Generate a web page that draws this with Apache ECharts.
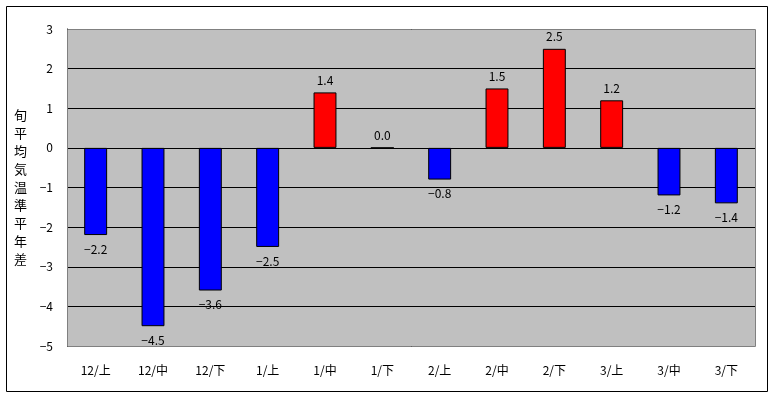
<!DOCTYPE html>
<html><head><meta charset="utf-8">
<script src="https://cdn.jsdelivr.net/npm/echarts@6/dist/echarts.min.js"></script>
<style>html,body{margin:0;padding:0;background:#fff}#c{width:773px;height:396px}</style>
</head><body><div id="c"></div>
<script>
const categories = ['12/上','12/中','12/下','1/上','1/中','1/下','2/上','2/中','2/下','3/上','3/中','3/下'];
const values = [-2.2, -4.5, -3.6, -2.5, 1.4, 0.0, -0.8, 1.5, 2.5, 1.2, -1.2, -1.4];
const yTitle = '旬平均気温準平年差';
const yMin = -5, yMax = 3, yInterval = 1;

const fmt = v => String(v).replace('-', '\u2212');
const font = '"Noto Sans CJK JP", "DejaVu Sans", sans-serif';

const chart = echarts.init(document.getElementById('c'), null, {renderer: 'canvas'});
chart.setOption({
  animation: false,
  backgroundColor: '#fff',
  textStyle: {fontFamily: font},
  graphic: [{
    type: 'rect', shape: {x: 6.5, y: 6.5, width: 761, height: 385},
    style: {fill: null, stroke: '#000', lineWidth: 1}, z: -10
  }, {
    type: 'rect', shape: {x: 67.5, y: 29.5, width: 688, height: 317},
    style: {fill: null, stroke: '#808080', lineWidth: 1}, z: 1
  }],
  grid: {left: 67, top: 29, right: 18, bottom: 50, show: true, backgroundColor: '#C0C0C0', borderWidth: 0},
  xAxis: {
    type: 'category', data: categories,
    axisLine: {show: false},
    axisTick: {show: false},
    axisLabel: {color: '#000', fontSize: 12, margin: 18, fontFamily: font}
  },
  yAxis: {
    type: 'value', min: yMin, max: yMax, interval: yInterval,
    name: yTitle.split('').join('\n'),
    nameLocation: 'middle', nameRotate: 0, nameGap: 40,
    nameTextStyle: {color: '#000', fontSize: 13, lineHeight: 18, fontFamily: font},
    axisLine: {show: true, lineStyle: {color: '#000'}},
    axisTick: {show: false},
    axisLabel: {color: '#000', fontSize: 12, margin: 14, formatter: v => fmt(v), fontFamily: font},
    splitLine: {show: true, lineStyle: {color: '#000', width: 1}}
  },
  series: [{
    type: 'bar',
    barWidth: '40%',
    data: values.map(v => ({
      value: v,
      itemStyle: {color: v >= 0 ? '#FF0000' : '#0000FF', borderColor: '#000', borderWidth: 1},
      label: {position: v >= 0 ? 'top' : 'bottom', distance: v >= 0 ? 6 : 8}
    })),
    label: {
      show: true, color: '#000', fontSize: 12, fontFamily: font,
      formatter: p => fmt(p.value.toFixed(1))
    }
  }]
});
</script></body></html>
